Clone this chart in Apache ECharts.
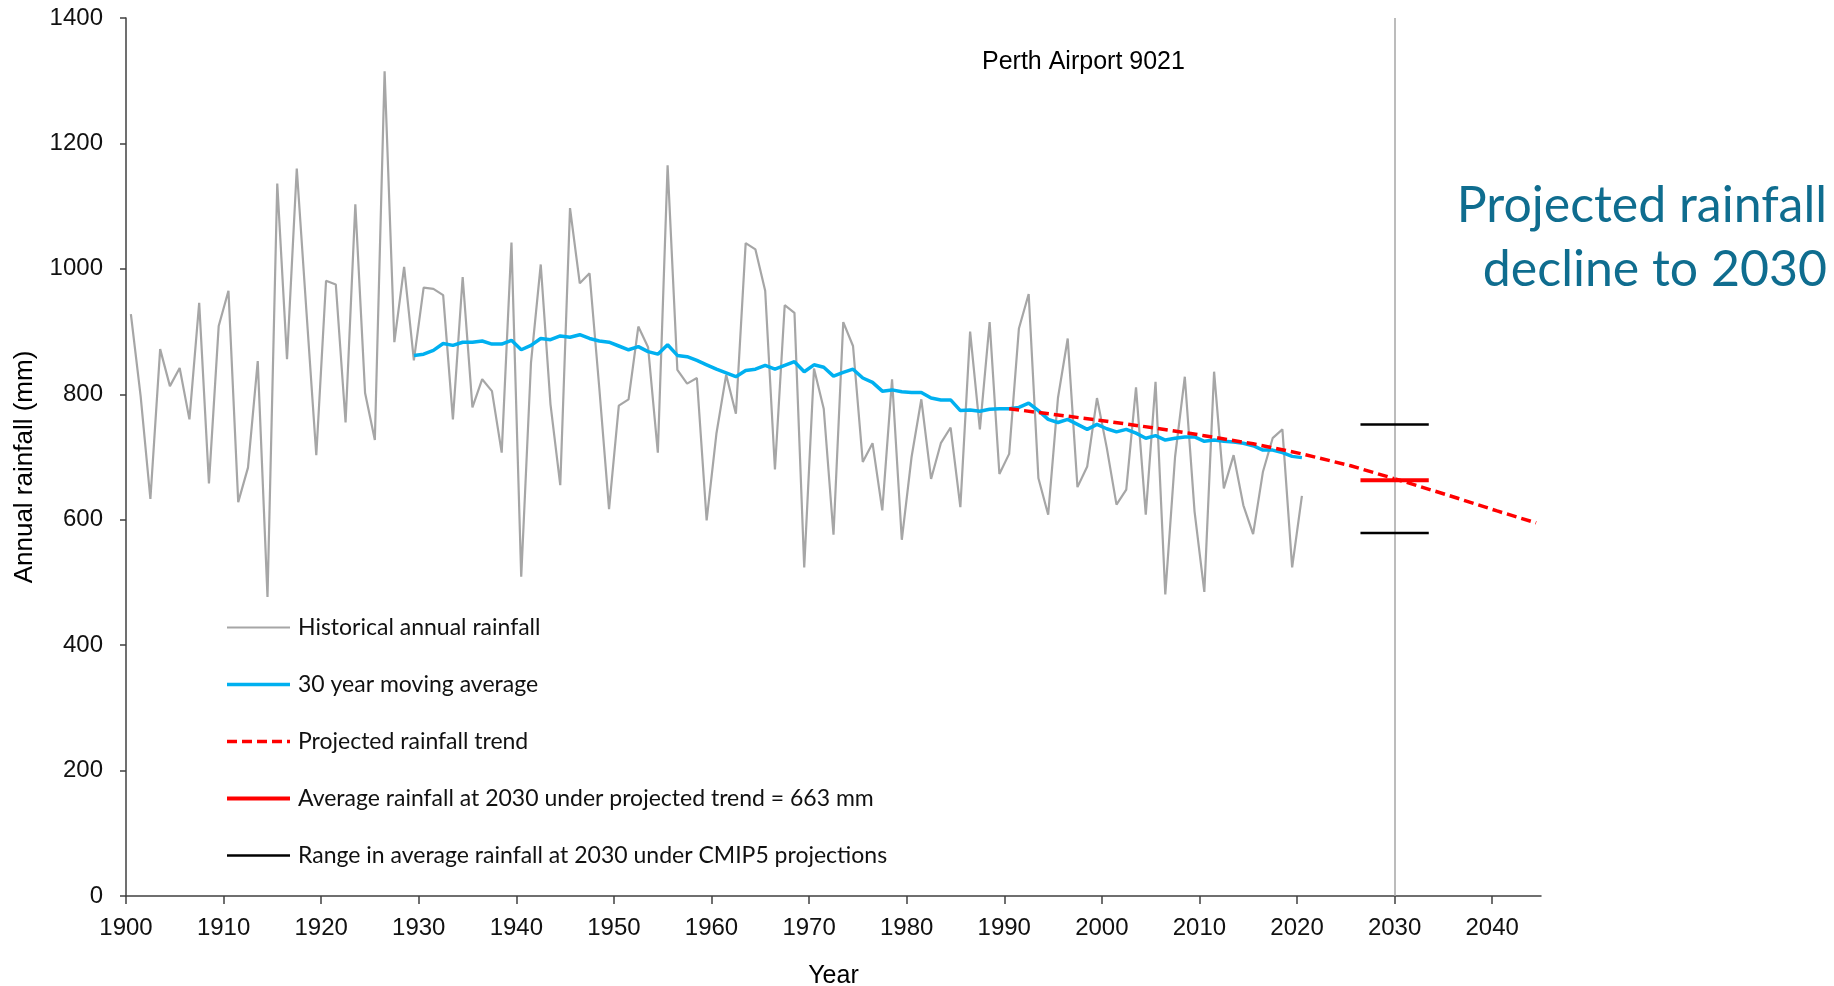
<!DOCTYPE html>
<html>
<head>
<meta charset="utf-8">
<title>Perth Airport 9021 rainfall</title>
<script src="https://cdn.jsdelivr.net/npm/echarts@6.0.0/dist/echarts.min.js"></script>
<style>
  html, body { margin: 0; padding: 0; background: #fff; }
  #chart { width: 1834px; height: 986px; }
</style>
</head>
<body>
<div id="chart"></div>
<script>
// annual rainfall (mm), 1900 - 2020
var histStart = 1900;
var histRain = [
  928, 797, 633, 872, 813, 842, 760, 946, 658, 909,
  965, 628, 683, 853, 477, 1136, 856, 1160, 930, 703,
  981, 975, 755, 1103, 802, 727, 1315, 883, 1003, 854,
  970, 968, 958, 760, 987, 779, 824, 805, 707, 1042,
  509, 850, 1007, 784, 655, 1097, 977, 993, 810, 617,
  782, 792, 908, 875, 707, 1165, 839, 817, 826, 599,
  737, 831, 769, 1041, 1031, 965, 680, 942, 930, 524,
  841, 777, 576, 915, 877, 692, 722, 615, 824, 568,
  700, 792, 665, 722, 747, 620, 900, 744, 915, 673,
  705, 905, 960, 666, 608, 794, 889, 652, 685, 794,
  715, 624, 648, 811, 608, 820, 481, 700, 828, 613,
  485, 836, 650, 703, 623, 577, 676, 730, 744, 524,
  638
];

// 30 year moving average, 1929 - 2020
var maStart = 1929;
var maRain = [
  862, 864, 870, 881, 878, 883, 883, 885, 880, 880,
  886, 871, 878, 889, 887, 893, 891, 895, 889, 885,
  883, 877, 871, 876, 868, 864, 879, 862, 860, 854,
  847, 840, 834, 828, 838, 840, 846, 840, 846, 852,
  836, 847, 843, 829, 835, 840, 826, 819, 805, 807,
  804, 803, 803, 794, 791, 791, 774, 775, 773, 776,
  777, 777, 779, 786, 774, 760, 755, 760, 752, 744,
  752, 745, 740, 744, 738, 730, 734, 727, 730, 732,
  732, 725, 727, 725, 724, 722, 718, 711, 711, 707,
  701, 699
];

// projected trend
var trendYears = [1990, 1995, 2000, 2005, 2010, 2015, 2020, 2025, 2030, 2035, 2040, 2044];
var trendRain = [777, 767, 757, 746, 734, 721, 705, 686, 663, 639, 614, 595];

// 2030 markers
var markYear = 2030;
var markSpan = [2026.5, 2033.5];
var avg2030 = 663;
var rangeLow = 579;
var rangeHigh = 752;

var xTicks = [1900, 1910, 1920, 1930, 1940, 1950, 1960, 1970, 1980, 1990, 2000, 2010, 2020, 2030, 2040];

// values are plotted at mid-year
function toPoints(start, vals) {
  return vals.map(function (v, i) { return [start + i + 0.5, v]; });
}

var chart = echarts.init(document.getElementById('chart'));

var axisFont = 'Liberation Sans, Arial, sans-serif';
var legendFont = 'Lato, sans-serif';
var plain = function (v) { return String(v); };

chart.setOption({
  animation: false,
  backgroundColor: '#fff',
  title: {
    text: 'Perth Airport 9021',
    left: 977,
    top: 45,
    textStyle: { fontFamily: axisFont, fontSize: 25, fontWeight: 'normal', color: '#000' }
  },
  graphic: [
    {
      type: 'text',
      right: 7,
      top: 181,
      style: { text: 'Projected rainfall', fontFamily: legendFont, fontSize: 50, fill: '#0f6d8f' }
    },
    {
      type: 'text',
      right: 7,
      top: 245,
      style: { text: 'decline to 2030', fontFamily: legendFont, fontSize: 50, fill: '#0f6d8f' }
    }
  ],
  grid: { left: 126, right: 293, top: 18, bottom: 90, outerBoundsMode: 'none' },
  legend: {
    orient: 'vertical',
    left: 220,
    top: 611,
    itemWidth: 63,
    itemHeight: 14,
    itemGap: 34,
    itemStyle: { opacity: 0 },
    lineStyle: { width: 3 },
    textStyle: { fontFamily: legendFont, fontSize: 23, lineHeight: 23, color: '#111', padding: [0, 0, 0, 3] },
    data: [
      { name: 'Historical annual rainfall', lineStyle: { width: 2 } },
      { name: '30 year moving average', lineStyle: { width: 3.5 } },
      { name: 'Projected rainfall trend', lineStyle: { width: 3.5 } },
      { name: 'Average rainfall at 2030 under projected trend = 663 mm', lineStyle: { width: 4 } },
      { name: 'Range in average rainfall at 2030 under CMIP5 projections', lineStyle: { width: 2.5 } }
    ]
  },
  xAxis: {
    type: 'value',
    min: 1900,
    max: 2045,
    interval: 10,
    name: 'Year',
    nameLocation: 'middle',
    nameGap: 68,
    nameTextStyle: { fontFamily: axisFont, fontSize: 25, color: '#000' },
    axisLine: { lineStyle: { color: '#404040', width: 1.5 } },
    axisTick: { show: true, length: 8, customValues: xTicks, lineStyle: { color: '#404040', width: 1.5 } },
    axisLabel: { customValues: xTicks, formatter: plain, margin: 20, fontFamily: axisFont, fontSize: 24, color: '#111' },
    splitLine: { show: false }
  },
  yAxis: {
    type: 'value',
    min: 0,
    max: 1400,
    interval: 200,
    name: 'Annual rainfall (mm)',
    nameLocation: 'middle',
    nameGap: 88,
    nameTextStyle: { fontFamily: axisFont, fontSize: 26, color: '#000', padding: [0, 20, 0, 0] },
    axisLine: { show: true, lineStyle: { color: '#404040', width: 1.5 } },
    axisTick: { show: true, length: 6, lineStyle: { color: '#404040', width: 1.5 } },
    axisLabel: { formatter: plain, margin: 23, fontFamily: axisFont, fontSize: 24, color: '#111' },
    splitLine: { show: false }
  },
  series: [
    {
      name: 'Historical annual rainfall',
      type: 'line',
      symbol: 'none',
      data: toPoints(histStart, histRain),
      lineStyle: { color: '#a6a6a6', width: 2.2 },
      itemStyle: { color: '#a6a6a6' },
      z: 2,
      markLine: {
        silent: true,
        symbol: 'none',
        label: { show: false },
        lineStyle: { color: '#a6a6a6', width: 1.5, type: 'solid' },
        data: [{ xAxis: markYear }]
      }
    },
    {
      name: '30 year moving average',
      type: 'line',
      symbol: 'none',
      data: toPoints(maStart, maRain),
      lineStyle: { color: '#00b0f0', width: 3.5 },
      itemStyle: { color: '#00b0f0' },
      z: 3
    },
    {
      name: 'Projected rainfall trend',
      type: 'line',
      symbol: 'none',
      data: trendYears.map(function (y, i) { return [y + 0.5, trendRain[i]]; }),
      lineStyle: { color: '#ff0000', width: 3.5, type: [10, 5] },
      itemStyle: { color: '#ff0000' },
      z: 4
    },
    {
      name: 'Average rainfall at 2030 under projected trend = 663 mm',
      type: 'line',
      symbol: 'none',
      data: [[markSpan[0], avg2030], [markSpan[1], avg2030]],
      lineStyle: { color: '#ff0000', width: 4 },
      itemStyle: { color: '#ff0000' },
      z: 5
    },
    {
      name: 'Range in average rainfall at 2030 under CMIP5 projections',
      type: 'line',
      symbol: 'none',
      data: [
        [markSpan[0], rangeHigh], [markSpan[1], rangeHigh],
        [markSpan[1], '-'],
        [markSpan[0], rangeLow], [markSpan[1], rangeLow]
      ],
      lineStyle: { color: '#000', width: 2.5 },
      itemStyle: { color: '#000' },
      z: 5
    }
  ]
});
</script>
</body>
</html>
